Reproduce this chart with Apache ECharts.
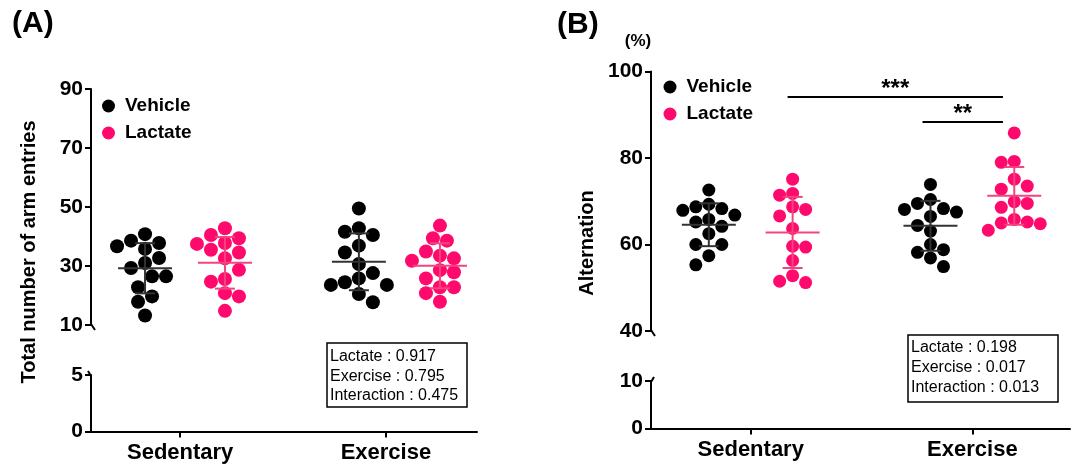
<!DOCTYPE html>
<html><head><meta charset="utf-8">
<script src="https://cdn.jsdelivr.net/npm/echarts@6/dist/echarts.min.js"></script>
<style>html,body{margin:0;padding:0;background:#fff}#c{width:1074px;height:468px}</style>
</head><body><div id="c"></div>
<script>
// ---------------- DATA ----------------
const categories = ['Sedentary', 'Exercise'];
const seriesNames = ['Vehicle', 'Lactate'];
// Panel A : total number of arm entries
const entriesSedVehicle = [40.8, 35.8, 36.7, 38.6, 37.8, 32.7, 31.0, 29.3, 26.5, 26.5, 22.8, 19.7, 17.9, 13.2];
const entriesSedLactate = [42.8, 40.5, 39.4, 35.5, 37.5, 37.8, 34.6, 32.6, 28.7, 25.6, 24.7, 20.8, 19.7, 14.8];
const entriesExVehicle  = [49.5, 41.6, 42.8, 40.5, 36.9, 34.6, 30.7, 27.6, 23.6, 24.5, 25.8, 23.6, 20.5, 17.7];
const entriesExLactate  = [43.7, 39.4, 38.6, 34.9, 33.5, 31.8, 32.6, 27.9, 28.6, 25.8, 22.8, 22.8, 20.8, 17.9];
// Panel B : alternation (%)
const altSedVehicle = [72.6, 66.8, 67.9, 68.3, 69.3, 68.7, 64.2, 65.2, 65.8, 62.5, 60.0, 60.0, 57.4, 55.3];
const altSedLactate = [75.1, 71.4, 71.8, 68.1, 68.7, 66.6, 63.7, 59.4, 59.6, 56.3, 52.8, 51.2, 51.5];
const altExVehicle  = [73.9, 70.4, 68.1, 68.3, 69.5, 66.5, 67.5, 64.4, 63.1, 60.0, 58.2, 58.8, 56.9, 54.9];
const altExLactate  = [85.8, 79.0, 79.2, 75.1, 72.8, 73.5, 69.9, 69.5, 68.6, 64.8, 65.8, 65.0, 65.2, 63.3];
// tick labels
const ticksAUpper = [10, 30, 50, 70, 90];
const ticksALower = [0, 5];
const ticksBUpper = [40, 60, 80, 100];
const ticksBLower = [0, 10];
// annotations
const titleA = 'Total number of arm entries';
const titleB = 'Alternation';
const unitB = '(%)';
const statsA = ['Lactate : 0.917', 'Exercise : 0.795', 'Interaction : 0.475'];
const statsB = ['Lactate : 0.198', 'Exercise : 0.017', 'Interaction : 0.013'];
const sigLabels = ['***', '**'];

// ---------------- LAYOUT / STYLE ----------------
const FONT = "'Liberation Sans', Arial, Helvetica, sans-serif";
const BLACK = '#000000', PINK = '#ff0a6c';
const LINE_COL = ['#333333', '#f2447e'];
const L = {
  A: { catX: [23.1, 76.4], groupX: [[14.0, 34.7], [69.4, 90.4]], dot: 14, meanHW: 27, capHW: 10 },
  B: { catX: [23.8, 76.7], groupX: [[13.8, 33.8], [66.7, 86.7]], dot: 13, meanHW: 27, capHW: 10,
       sig: [[32.6, 84.0, 94.1], [64.8, 84.0, 88.3]] }
};

const chart = echarts.init(document.getElementById('c'), null, { renderer: 'canvas' });

function yAx(grid, min, max, interval, ticks, margin) {
  return {
    type: 'value', gridIndex: grid, min, max, interval,
    axisLine: { show: true, lineStyle: { color: BLACK, width: 2 } },
    axisTick: { show: true, length: 6, customValues: ticks, lineStyle: { color: BLACK, width: 2 } },
    axisLabel: { show: true, customValues: ticks, color: BLACK, fontFamily: FONT, fontWeight: 'bold', fontSize: 21, margin: margin },
    splitLine: { show: false }
  };
}
function xAx(grid, show, catX) {
  return {
    type: 'value', gridIndex: grid, min: 0, max: 100, show: show,
    axisLine: { show: show, onZero: false, lineStyle: { color: BLACK, width: 2 } },
    axisTick: { show: show, customValues: catX, length: 6, lineStyle: { color: BLACK, width: 2 } },
    axisLabel: {
      show: show, customValues: catX, color: BLACK, fontFamily: FONT, fontWeight: 'bold', fontSize: 22, margin: 10,
      formatter: v => categories[Math.abs(v - catX[0]) < Math.abs(v - catX[1]) ? 0 : 1]
    },
    splitLine: { show: false }
  };
}
function mean(a) { return a.reduce((s, v) => s + v, 0) / a.length; }
function sd(a) { const m = mean(a); return Math.sqrt(a.reduce((s, v) => s + (v - m) * (v - m), 0) / (a.length - 1)); }

function errSeries(xi, yi, groups, lay) {
  return {
    type: 'custom', xAxisIndex: xi, yAxisIndex: yi, z: 10, silent: true, clip: false,
    encode: { x: 0, y: 1 },
    data: groups.map(g => [g[1], mean(g[0]), sd(g[0]), g[2]]),
    renderItem: function (params, api) {
      const x = api.value(0), m = api.value(1), s = api.value(2), ci = api.value(3);
      const c = api.coord([x, m]), t = api.coord([x, m + s]), b = api.coord([x, m - s]);
      const st = { stroke: LINE_COL[ci], lineWidth: 2 };
      return { type: 'group', children: [
        { type: 'line', shape: { x1: c[0] - lay.meanHW, y1: c[1], x2: c[0] + lay.meanHW, y2: c[1] }, style: st },
        { type: 'line', shape: { x1: c[0], y1: t[1], x2: c[0], y2: b[1] }, style: st },
        { type: 'line', shape: { x1: c[0] - lay.capHW, y1: t[1], x2: c[0] + lay.capHW, y2: t[1] }, style: st },
        { type: 'line', shape: { x1: c[0] - lay.capHW, y1: b[1], x2: c[0] + lay.capHW, y2: b[1] }, style: st }
      ] };
    }
  };
}
function scatter(name, xi, yi, color, size, data) {
  return { type: 'scatter', name, xAxisIndex: xi, yAxisIndex: yi, symbol: 'circle', symbolSize: size,
    itemStyle: { color: color, opacity: 1 }, emphasis: { disabled: true }, z: 5, data: data };
}

const groupsA = [
  [entriesSedVehicle, L.A.groupX[0][0], 0], [entriesSedLactate, L.A.groupX[0][1], 1],
  [entriesExVehicle, L.A.groupX[1][0], 0], [entriesExLactate, L.A.groupX[1][1], 1]
];
const groupsB = [
  [altSedVehicle, L.B.groupX[0][0], 0], [altSedLactate, L.B.groupX[0][1], 1],
  [altExVehicle, L.B.groupX[1][0], 0], [altExLactate, L.B.groupX[1][1], 1]
];

const legendBase = {
  orient: 'vertical', icon: 'circle', itemWidth: 13, itemHeight: 13, itemGap: 8,
  data: seriesNames, selectedMode: false,
  textStyle: { color: BLACK, fontFamily: FONT, fontWeight: 'bold', fontSize: 19, padding: [0, 0, 0, 5] }
};

const option = {
  animation: false,
  backgroundColor: '#ffffff',
  grid: [
    { left: 91, top: 89, width: 386, height: 236 },
    { left: 91, top: 375, width: 386, height: 56.5 },
    { left: 651, top: 71.5, width: 419, height: 259.5 },
    { left: 651, top: 381, width: 419, height: 47.5 }
  ],
  xAxis: [xAx(0, false, L.A.catX), xAx(1, true, L.A.catX), xAx(2, false, L.B.catX), xAx(3, true, L.B.catX)],
  yAxis: [yAx(0, 10, 90, 20, ticksAUpper, 8), yAx(1, 0, 5, 5, ticksALower, 8),
          yAx(2, 40, 100, 20, ticksBUpper, 8), yAx(3, 0, 10, 10, ticksBLower, 8)],
  legend: [
    Object.assign({}, legendBase, { left: 97, top: 91.5 }),
    Object.assign({}, legendBase, { left: 658.5, top: 72.5 })
  ],
  series: []
};

function buildSeries(swarmFn) {
  const s = [];
  s.push(scatter(seriesNames[0], 0, 0, BLACK, L.A.dot, swarmFn(groupsA[0], 0, L.A.dot).concat(swarmFn(groupsA[2], 0, L.A.dot))));
  s.push(scatter(seriesNames[1], 0, 0, PINK, L.A.dot, swarmFn(groupsA[1], 0, L.A.dot).concat(swarmFn(groupsA[3], 0, L.A.dot))));
  s.push(scatter(seriesNames[0], 2, 2, BLACK, L.B.dot, swarmFn(groupsB[0], 2, L.B.dot).concat(swarmFn(groupsB[2], 2, L.B.dot))));
  s.push(scatter(seriesNames[1], 2, 2, PINK, L.B.dot, swarmFn(groupsB[1], 2, L.B.dot).concat(swarmFn(groupsB[3], 2, L.B.dot))));
  s.push(errSeries(0, 0, groupsA, L.A));
  s.push(errSeries(2, 2, groupsB, L.B));
  s.push({
    type: 'custom', xAxisIndex: 2, yAxisIndex: 2, z: 10, silent: true, clip: false,
    encode: { x: [0, 1], y: 2 },
    data: L.B.sig.map((r, i) => [r[0], r[1], r[2], i]),
    renderItem: function (params, api) {
      const a = api.coord([api.value(0), api.value(2)]), b = api.coord([api.value(1), api.value(2)]);
      return { type: 'group', children: [
        { type: 'line', shape: { x1: a[0], y1: a[1], x2: b[0], y2: b[1] }, style: { stroke: BLACK, lineWidth: 2 } },
        { type: 'text', style: { text: sigLabels[api.value(3)], x: (a[0] + b[0]) / 2, y: a[1] + 4,
          textAlign: 'center', textVerticalAlign: 'bottom', fill: BLACK, font: 'bold 24px ' + FONT } }
      ] };
    }
  });
  return s;
}

// first pass: centred points
option.series = buildSeries(g => g[0].map(v => [g[1], v]));
chart.setOption(option);

// beeswarm layout in pixel space using the axis scales
function swarm(g, gridIndex, d) {
  const vals = g[0], xc = g[1];
  const p0 = chart.convertToPixel({ gridIndex }, [0, vals[0]]);
  const p1 = chart.convertToPixel({ gridIndex }, [100, vals[0]]);
  const unitPerPx = 100 / (p1[0] - p0[0]);
  const ys = vals.map(v => chart.convertToPixel({ gridIndex }, [xc, v])[1]);
  const order = vals.map((v, i) => i).sort((a, b) => vals[b] - vals[a]);
  const off = new Array(vals.length).fill(0);
  const placed = [];
  let left = 0, right = 0;
  for (const i of order) {
    let chosen = null;
    for (let k = 0; k < 40 && chosen === null; k++) {
      const cands = k === 0 ? [0] : (left <= right ? [-k, k] : [k, -k]);
      for (const c of cands) {
        const ox = c * d / 2;
        let ok = true;
        for (const p of placed) {
          const dx = p[0] - ox, dy = p[1] - ys[i];
          if (dx * dx + dy * dy < d * d * 0.98) { ok = false; break; }
        }
        if (ok) { chosen = ox; break; }
      }
    }
    off[i] = chosen;
    if (chosen < 0) left++; else if (chosen > 0) right++;
    placed.push([chosen, ys[i]]);
  }
  return vals.map((v, i) => [xc + off[i] * unitPerPx, v]);
}

option.series = buildSeries(swarm);

// broken-axis hooks
function px(gi, x, y) { return chart.convertToPixel({ gridIndex: gi }, [x, y]); }
const hA1 = px(0, 0, 10), hA2 = px(1, 0, 5), hB1 = px(2, 0, 40), hB2 = px(3, 0, 10);
const hookStyle = { stroke: BLACK, lineWidth: 2 };
option.graphic = [
  { type: 'line', shape: { x1: hA1[0], y1: hA1[1] - 1, x2: hA1[0] + 4, y2: hA1[1] + 5 }, style: hookStyle },
  { type: 'line', shape: { x1: hA2[0], y1: hA2[1] + 1, x2: hA2[0] - 3, y2: hA2[1] - 4 }, style: hookStyle },
  { type: 'line', shape: { x1: hB1[0], y1: hB1[1] - 1, x2: hB1[0] + 4, y2: hB1[1] + 5 }, style: hookStyle },
  { type: 'line', shape: { x1: hB2[0], y1: hB2[1] + 1, x2: hB2[0] + 3, y2: hB2[1] - 4 }, style: hookStyle },
  { type: 'text', left: 12, top: 9, style: { text: '(A)', font: 'bold 30px ' + FONT, fill: BLACK } },
  { type: 'text', left: 557, top: 10, style: { text: '(B)', font: 'bold 30px ' + FONT, fill: BLACK } },
  { type: 'text', x: 29, y: 252, rotation: Math.PI / 2,
    style: { text: titleA, font: 'bold 20px ' + FONT, fill: BLACK, textAlign: 'center', textVerticalAlign: 'middle' } },
  { type: 'text', x: 587, y: 243, rotation: Math.PI / 2,
    style: { text: titleB, font: 'bold 20px ' + FONT, fill: BLACK, textAlign: 'center', textVerticalAlign: 'middle' } },
  { type: 'text', x: 638, y: 41, style: { text: unitB, font: 'bold 17px ' + FONT, fill: BLACK, textAlign: 'center', textVerticalAlign: 'middle' } },
  { type: 'rect', shape: { x: 327, y: 343, width: 140, height: 64 }, style: { fill: '#fff', stroke: BLACK, lineWidth: 1.5 } },
  { type: 'text', x: 330, y: 347, style: { text: statsA.join('\n'), font: '16px ' + FONT, lineHeight: 19.5, fill: BLACK } },
  { type: 'rect', shape: { x: 908, y: 335, width: 150, height: 67 }, style: { fill: '#fff', stroke: BLACK, lineWidth: 1.5 } },
  { type: 'text', x: 911, y: 338, style: { text: statsB.join('\n'), font: '16px ' + FONT, lineHeight: 20, fill: BLACK } }
];
chart.setOption(option, true);
</script>
</body></html>
